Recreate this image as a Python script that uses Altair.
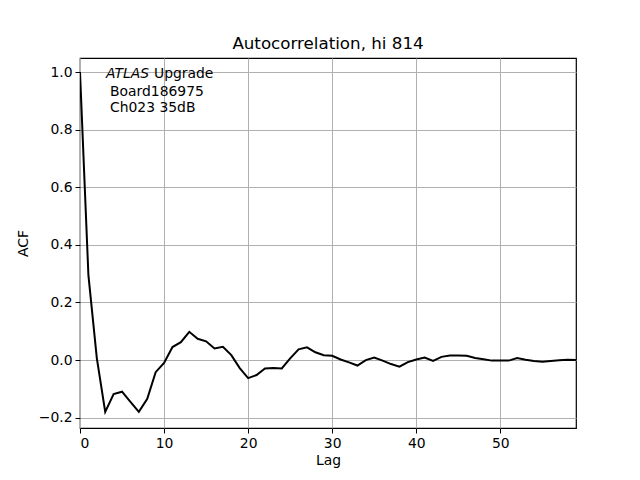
import altair as alt
import pandas as pd

lags = list(range(60))
acf = [1.0, 0.295, 0.007, -0.18, -0.118, -0.11, -0.145, -0.18, -0.135, -0.042,
       -0.01, 0.045, 0.062, 0.098, 0.074, 0.065, 0.04, 0.046, 0.017, -0.028,
       -0.063, -0.052, -0.029, -0.028, -0.029, 0.006, 0.037, 0.044, 0.027, 0.017,
       0.015, 0.002, -0.008, -0.019, 0.0, 0.009, -0.002, -0.014, -0.023, -0.007,
       0.002, 0.009, -0.003, 0.011, 0.016, 0.016, 0.015, 0.007, 0.003, -0.002,
       -0.002, -0.002, 0.007, 0.001, -0.003, -0.006, -0.003, -0.001, 0.001, 0.0]

df = pd.DataFrame({"Lag": lags, "ACF": acf})
FONT = "DejaVu Sans"

line = alt.Chart(df).mark_line(color="black", strokeWidth=2, clip=True).encode(
    x=alt.X("Lag:Q", scale=alt.Scale(domain=[0, 59], nice=False, zero=False),
            axis=alt.Axis(values=[0, 10, 20, 30, 40, 50], title="Lag")),
    y=alt.Y("ACF:Q", scale=alt.Scale(domain=[-0.236, 1.049], nice=False, zero=False),
            axis=alt.Axis(values=[-0.2, 0.0, 0.2, 0.4, 0.6, 0.8, 1.0], format=".1f", title="ACF")),
)

ann = pd.DataFrame({"t": ["x"]})
t1 = alt.Chart(ann).mark_text(text="ATLAS", fontStyle="italic", font=FONT, fontSize=13.9,
                              align="left", baseline="middle").encode(
    x=alt.value(26), y=alt.value(16.3))
t2 = alt.Chart(ann).mark_text(text="Upgrade", font=FONT, fontSize=13.9,
                              align="left", baseline="middle").encode(
    x=alt.value(74), y=alt.value(16.3))
t3 = alt.Chart(ann).mark_text(text="Board186975", font=FONT, fontSize=13.9,
                              align="left", baseline="middle").encode(
    x=alt.value(30), y=alt.value(34.3))
t4 = alt.Chart(ann).mark_text(text="Ch023 35dB", font=FONT, fontSize=13.9,
                              align="left", baseline="middle").encode(
    x=alt.value(30), y=alt.value(50.3))

chart = alt.layer(line, t1, t2, t3, t4).properties(
    width=496, height=370,
    title=alt.TitleParams("Autocorrelation, hi 814", font=FONT, fontSize=16.7,
                          fontWeight="normal", color="black", offset=5),
    autosize=alt.AutoSizeParams(type="none"),
    padding={"left": 72, "top": 50, "right": 56, "bottom": 44},
).configure_view(stroke="black", strokeWidth=1.2).configure_axis(
    grid=True, gridColor="#b0b0b0", gridWidth=1, gridOpacity=1,
    domain=False, tickColor="black", tickSize=5, tickWidth=1,
    labelFont=FONT, labelFontSize=13.9, labelColor="black", labelPadding=3,
    titleFont=FONT, titleFontSize=13.9, titleFontWeight="normal", titleColor="black",
).configure_axisX(titlePadding=4).configure_axisY(titlePadding=8)

chart.save("out.html", embed_options={"renderer": "svg", "actions": False})
